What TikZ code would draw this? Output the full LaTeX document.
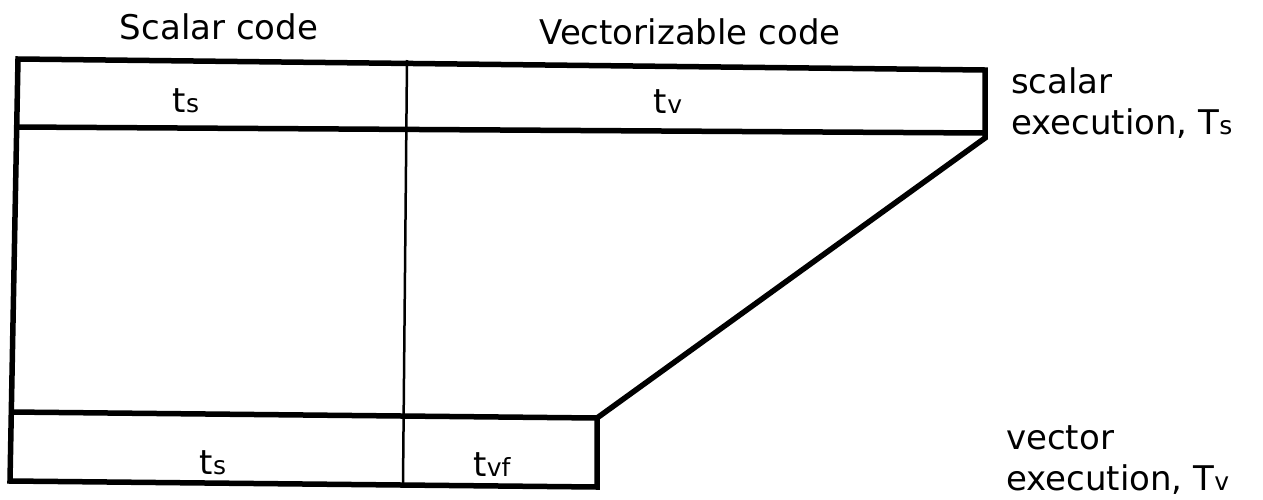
\documentclass[tikz,border=0pt]{standalone}
\usepackage{fontspec}
\setmainfont{DejaVu Sans}
\newcommand{\lowsub}[1]{{\fontsize{25}{25}\selectfont #1}}
\begin{document}
\begin{tikzpicture}[x=1pt,y=-1pt,
  outline/.style={line width=5.5pt,line join=miter},
  thinline/.style={line width=2.5pt},
  lbl/.style={font=\fontsize{34}{40}\selectfont,inner sep=0pt},
  side/.style={font=\fontsize{34}{41}\selectfont,inner sep=0pt,align=left,anchor=base west}]
\useasboundingbox (0,0) rectangle (1263,499);
% corner points of the time bars
\coordinate (tl) at (18,59);
\coordinate (tr) at (985,70);
\coordinate (rc) at (985,138);
\coordinate (bt) at (597,418);
\coordinate (br) at (597,487);
\coordinate (bl) at (10,481);
\coordinate (ml) at (17,127);
\coordinate (mr) at (985,133);
\coordinate (sl) at (11,412);
\coordinate (dt) at (407,60);
\coordinate (db) at (403,484);
% outer outline of the scalar and vector execution bars
\draw[outline] (tl) -- (tr) -- (rc) -- (bt) -- (br) -- (bl) -- cycle;
\draw[outline] (ml) -- (mr);
\draw[outline] (sl) -- (bt);
% boundary between scalar and vectorizable code
\draw[thinline] (dt) -- (db);
% column headings
\node[lbl,anchor=base] (hs) at (219,39) {Scalar code};
\node[lbl,anchor=base] (hv) at (690,44) {Vectorizable code};
% bar labels
\node[lbl,anchor=base] (ts1) at (186,112) {t\lowsub{s}};
\node[lbl,anchor=base] (tv1) at (668,113) {t\lowsub{v}};
\node[lbl,anchor=base] (ts2) at (213,474) {t\lowsub{s}};
\node[lbl,anchor=base] (tvf) at (492,476) {t\lowsub{vf}};
% execution labels (anchored at the baseline of their second line)
\node[side] (se) at (1011,134) {scalar\\execution, T\lowsub{s}};
\node[side] (ve) at (1006,490) {vector\\execution, T\lowsub{v}};
\end{tikzpicture}
\end{document}
